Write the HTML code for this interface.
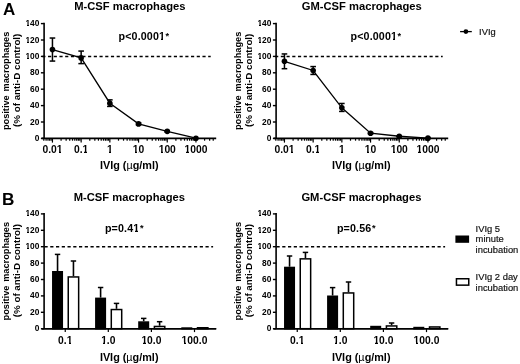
<!DOCTYPE html>
<html><head><meta charset="utf-8"><style>
html,body{margin:0;padding:0;background:#fff;width:520px;height:364px;overflow:hidden}
svg{display:block;will-change:transform}
</style></head><body>
<svg width="520" height="364" viewBox="0 0 520 364">
<rect width="520" height="364" fill="#fff"/>
<text x="3.0" y="14.6" font-size="17" font-weight="bold" font-family="Liberation Sans, sans-serif">A</text>
<text x="2.0" y="205.3" font-size="17.2" font-weight="bold" font-family="Liberation Sans, sans-serif">B</text>
<line x1="44.1" y1="22.80" x2="44.1" y2="138.40" stroke="#000" stroke-width="1.6"/>
<line x1="40.90" y1="138.40" x2="44.10" y2="138.40" stroke="#000" stroke-width="1.4"/>
<text x="39.40" y="140.90" font-size="8.4" font-weight="bold" text-anchor="end" font-family="Liberation Sans, sans-serif">0</text>
<line x1="40.90" y1="122.00" x2="44.10" y2="122.00" stroke="#000" stroke-width="1.4"/>
<text x="39.40" y="124.50" font-size="8.4" font-weight="bold" text-anchor="end" font-family="Liberation Sans, sans-serif">20</text>
<line x1="40.90" y1="105.60" x2="44.10" y2="105.60" stroke="#000" stroke-width="1.4"/>
<text x="39.40" y="108.10" font-size="8.4" font-weight="bold" text-anchor="end" font-family="Liberation Sans, sans-serif">40</text>
<line x1="40.90" y1="89.20" x2="44.10" y2="89.20" stroke="#000" stroke-width="1.4"/>
<text x="39.40" y="91.70" font-size="8.4" font-weight="bold" text-anchor="end" font-family="Liberation Sans, sans-serif">60</text>
<line x1="40.90" y1="72.80" x2="44.10" y2="72.80" stroke="#000" stroke-width="1.4"/>
<text x="39.40" y="75.30" font-size="8.4" font-weight="bold" text-anchor="end" font-family="Liberation Sans, sans-serif">80</text>
<line x1="40.90" y1="56.40" x2="44.10" y2="56.40" stroke="#000" stroke-width="1.4"/>
<text x="39.40" y="58.90" font-size="8.4" font-weight="bold" text-anchor="end" font-family="Liberation Sans, sans-serif">100</text>
<line x1="40.90" y1="40.00" x2="44.10" y2="40.00" stroke="#000" stroke-width="1.4"/>
<text x="39.40" y="42.50" font-size="8.4" font-weight="bold" text-anchor="end" font-family="Liberation Sans, sans-serif">120</text>
<line x1="40.90" y1="23.60" x2="44.10" y2="23.60" stroke="#000" stroke-width="1.4"/>
<text x="39.40" y="26.10" font-size="8.4" font-weight="bold" text-anchor="end" font-family="Liberation Sans, sans-serif">140</text>
<text transform="translate(9.20,80.90) rotate(-90)" font-size="9.5" font-weight="bold" text-anchor="middle" font-family="Liberation Sans, sans-serif" textLength="98.4" lengthAdjust="spacingAndGlyphs" word-spacing="1.3">positive macrophages</text>
<text transform="translate(20.30,80.30) rotate(-90)" font-size="9.6" font-weight="bold" text-anchor="middle" font-family="Liberation Sans, sans-serif" textLength="93.2" lengthAdjust="spacingAndGlyphs">(% of anti-D control)</text>
<line x1="41.60" y1="138.40" x2="216.20" y2="138.40" stroke="#000" stroke-width="1.6"/>
<line x1="42.30" y1="56.40" x2="210.70" y2="56.40" stroke="#000" stroke-width="1.5" stroke-dasharray="3.15 2.57"/>
<line x1="43.81" y1="138.40" x2="43.81" y2="140.70" stroke="#000" stroke-width="1.2"/>
<line x1="46.08" y1="138.40" x2="46.08" y2="140.70" stroke="#000" stroke-width="1.2"/>
<line x1="48.00" y1="138.40" x2="48.00" y2="140.70" stroke="#000" stroke-width="1.2"/>
<line x1="49.67" y1="138.40" x2="49.67" y2="140.70" stroke="#000" stroke-width="1.2"/>
<line x1="51.14" y1="138.40" x2="51.14" y2="140.70" stroke="#000" stroke-width="1.2"/>
<line x1="52.45" y1="138.40" x2="52.45" y2="142.60" stroke="#000" stroke-width="1.2"/>
<line x1="61.09" y1="138.40" x2="61.09" y2="140.70" stroke="#000" stroke-width="1.2"/>
<line x1="66.14" y1="138.40" x2="66.14" y2="140.70" stroke="#000" stroke-width="1.2"/>
<line x1="69.73" y1="138.40" x2="69.73" y2="140.70" stroke="#000" stroke-width="1.2"/>
<line x1="72.51" y1="138.40" x2="72.51" y2="140.70" stroke="#000" stroke-width="1.2"/>
<line x1="74.78" y1="138.40" x2="74.78" y2="140.70" stroke="#000" stroke-width="1.2"/>
<line x1="76.70" y1="138.40" x2="76.70" y2="140.70" stroke="#000" stroke-width="1.2"/>
<line x1="78.37" y1="138.40" x2="78.37" y2="140.70" stroke="#000" stroke-width="1.2"/>
<line x1="79.84" y1="138.40" x2="79.84" y2="140.70" stroke="#000" stroke-width="1.2"/>
<line x1="81.15" y1="138.40" x2="81.15" y2="142.60" stroke="#000" stroke-width="1.2"/>
<line x1="89.79" y1="138.40" x2="89.79" y2="140.70" stroke="#000" stroke-width="1.2"/>
<line x1="94.84" y1="138.40" x2="94.84" y2="140.70" stroke="#000" stroke-width="1.2"/>
<line x1="98.43" y1="138.40" x2="98.43" y2="140.70" stroke="#000" stroke-width="1.2"/>
<line x1="101.21" y1="138.40" x2="101.21" y2="140.70" stroke="#000" stroke-width="1.2"/>
<line x1="103.48" y1="138.40" x2="103.48" y2="140.70" stroke="#000" stroke-width="1.2"/>
<line x1="105.40" y1="138.40" x2="105.40" y2="140.70" stroke="#000" stroke-width="1.2"/>
<line x1="107.07" y1="138.40" x2="107.07" y2="140.70" stroke="#000" stroke-width="1.2"/>
<line x1="108.54" y1="138.40" x2="108.54" y2="140.70" stroke="#000" stroke-width="1.2"/>
<line x1="109.85" y1="138.40" x2="109.85" y2="142.60" stroke="#000" stroke-width="1.2"/>
<line x1="118.49" y1="138.40" x2="118.49" y2="140.70" stroke="#000" stroke-width="1.2"/>
<line x1="123.54" y1="138.40" x2="123.54" y2="140.70" stroke="#000" stroke-width="1.2"/>
<line x1="127.13" y1="138.40" x2="127.13" y2="140.70" stroke="#000" stroke-width="1.2"/>
<line x1="129.91" y1="138.40" x2="129.91" y2="140.70" stroke="#000" stroke-width="1.2"/>
<line x1="132.18" y1="138.40" x2="132.18" y2="140.70" stroke="#000" stroke-width="1.2"/>
<line x1="134.10" y1="138.40" x2="134.10" y2="140.70" stroke="#000" stroke-width="1.2"/>
<line x1="135.77" y1="138.40" x2="135.77" y2="140.70" stroke="#000" stroke-width="1.2"/>
<line x1="137.24" y1="138.40" x2="137.24" y2="140.70" stroke="#000" stroke-width="1.2"/>
<line x1="138.55" y1="138.40" x2="138.55" y2="142.60" stroke="#000" stroke-width="1.2"/>
<line x1="147.19" y1="138.40" x2="147.19" y2="140.70" stroke="#000" stroke-width="1.2"/>
<line x1="152.24" y1="138.40" x2="152.24" y2="140.70" stroke="#000" stroke-width="1.2"/>
<line x1="155.83" y1="138.40" x2="155.83" y2="140.70" stroke="#000" stroke-width="1.2"/>
<line x1="158.61" y1="138.40" x2="158.61" y2="140.70" stroke="#000" stroke-width="1.2"/>
<line x1="160.88" y1="138.40" x2="160.88" y2="140.70" stroke="#000" stroke-width="1.2"/>
<line x1="162.80" y1="138.40" x2="162.80" y2="140.70" stroke="#000" stroke-width="1.2"/>
<line x1="164.47" y1="138.40" x2="164.47" y2="140.70" stroke="#000" stroke-width="1.2"/>
<line x1="165.94" y1="138.40" x2="165.94" y2="140.70" stroke="#000" stroke-width="1.2"/>
<line x1="167.25" y1="138.40" x2="167.25" y2="142.60" stroke="#000" stroke-width="1.2"/>
<line x1="175.89" y1="138.40" x2="175.89" y2="140.70" stroke="#000" stroke-width="1.2"/>
<line x1="180.94" y1="138.40" x2="180.94" y2="140.70" stroke="#000" stroke-width="1.2"/>
<line x1="184.53" y1="138.40" x2="184.53" y2="140.70" stroke="#000" stroke-width="1.2"/>
<line x1="187.31" y1="138.40" x2="187.31" y2="140.70" stroke="#000" stroke-width="1.2"/>
<line x1="189.58" y1="138.40" x2="189.58" y2="140.70" stroke="#000" stroke-width="1.2"/>
<line x1="191.50" y1="138.40" x2="191.50" y2="140.70" stroke="#000" stroke-width="1.2"/>
<line x1="193.17" y1="138.40" x2="193.17" y2="140.70" stroke="#000" stroke-width="1.2"/>
<line x1="194.64" y1="138.40" x2="194.64" y2="140.70" stroke="#000" stroke-width="1.2"/>
<line x1="195.95" y1="138.40" x2="195.95" y2="142.60" stroke="#000" stroke-width="1.2"/>
<line x1="204.59" y1="138.40" x2="204.59" y2="140.70" stroke="#000" stroke-width="1.2"/>
<line x1="209.64" y1="138.40" x2="209.64" y2="140.70" stroke="#000" stroke-width="1.2"/>
<line x1="213.23" y1="138.40" x2="213.23" y2="140.70" stroke="#000" stroke-width="1.2"/>
<text x="52.45" y="153.1" font-size="10.3" font-weight="bold" text-anchor="middle" font-family="Liberation Sans, sans-serif">0.01</text>
<text x="81.15" y="153.1" font-size="10.3" font-weight="bold" text-anchor="middle" font-family="Liberation Sans, sans-serif">0.1</text>
<text x="109.85" y="153.1" font-size="10.3" font-weight="bold" text-anchor="middle" font-family="Liberation Sans, sans-serif">1</text>
<text x="138.55" y="153.1" font-size="10.3" font-weight="bold" text-anchor="middle" font-family="Liberation Sans, sans-serif">10</text>
<text x="167.25" y="153.1" font-size="10.3" font-weight="bold" text-anchor="middle" font-family="Liberation Sans, sans-serif">100</text>
<text x="195.95" y="153.1" font-size="10.3" font-weight="bold" text-anchor="middle" font-family="Liberation Sans, sans-serif">1000</text>
<text x="129.30" y="169.1" font-size="10.8" font-weight="bold" text-anchor="middle" font-family="Liberation Sans, sans-serif" textLength="58.6" lengthAdjust="spacingAndGlyphs">IVIg (<tspan font-weight="normal">µ</tspan>g/ml)</text>
<text x="129.80" y="10.1" font-size="11.2" font-weight="bold" text-anchor="middle" font-family="Liberation Sans, sans-serif">M-CSF macrophages</text>
<text x="143.90" y="40.3" font-size="10.7" font-weight="bold" text-anchor="middle" font-family="Liberation Sans, sans-serif" textLength="50.6" lengthAdjust="spacing">p&lt;0.0001<tspan font-size="9.2" dx="0.6" dy="-1.7">*</tspan></text>
<polyline points="52.45,49.51 81.15,57.88 109.85,103.22 138.55,123.89 167.25,131.35 195.95,138.24" fill="none" stroke="#000" stroke-width="1.3"/>
<line x1="52.45" y1="61.07" x2="52.45" y2="38.03" stroke="#000" stroke-width="1.5"/>
<line x1="49.65" y1="61.07" x2="55.25" y2="61.07" stroke="#000" stroke-width="1.5"/>
<line x1="49.65" y1="38.03" x2="55.25" y2="38.03" stroke="#000" stroke-width="1.5"/>
<circle cx="52.45" cy="49.51" r="2.8" fill="#000"/>
<line x1="81.15" y1="63.62" x2="81.15" y2="51.07" stroke="#000" stroke-width="1.5"/>
<line x1="78.35" y1="63.62" x2="83.95" y2="63.62" stroke="#000" stroke-width="1.5"/>
<line x1="78.35" y1="51.07" x2="83.95" y2="51.07" stroke="#000" stroke-width="1.5"/>
<circle cx="81.15" cy="57.88" r="2.8" fill="#000"/>
<line x1="109.85" y1="106.42" x2="109.85" y2="99.86" stroke="#000" stroke-width="1.5"/>
<line x1="107.05" y1="106.42" x2="112.65" y2="106.42" stroke="#000" stroke-width="1.5"/>
<line x1="107.05" y1="99.86" x2="112.65" y2="99.86" stroke="#000" stroke-width="1.5"/>
<circle cx="109.85" cy="103.22" r="2.8" fill="#000"/>
<line x1="138.55" y1="124.79" x2="138.55" y2="122.98" stroke="#000" stroke-width="1.5"/>
<line x1="135.75" y1="124.79" x2="141.35" y2="124.79" stroke="#000" stroke-width="1.5"/>
<line x1="135.75" y1="122.98" x2="141.35" y2="122.98" stroke="#000" stroke-width="1.5"/>
<circle cx="138.55" cy="123.89" r="2.8" fill="#000"/>
<line x1="167.25" y1="132.00" x2="167.25" y2="130.69" stroke="#000" stroke-width="1.5"/>
<line x1="164.45" y1="132.00" x2="170.05" y2="132.00" stroke="#000" stroke-width="1.5"/>
<line x1="164.45" y1="130.69" x2="170.05" y2="130.69" stroke="#000" stroke-width="1.5"/>
<circle cx="167.25" cy="131.35" r="2.8" fill="#000"/>
<circle cx="195.95" cy="138.24" r="2.8" fill="#000"/>
<line x1="276.1" y1="22.80" x2="276.1" y2="138.40" stroke="#000" stroke-width="1.6"/>
<line x1="272.90" y1="138.40" x2="276.10" y2="138.40" stroke="#000" stroke-width="1.4"/>
<text x="271.40" y="140.90" font-size="8.4" font-weight="bold" text-anchor="end" font-family="Liberation Sans, sans-serif">0</text>
<line x1="272.90" y1="122.00" x2="276.10" y2="122.00" stroke="#000" stroke-width="1.4"/>
<text x="271.40" y="124.50" font-size="8.4" font-weight="bold" text-anchor="end" font-family="Liberation Sans, sans-serif">20</text>
<line x1="272.90" y1="105.60" x2="276.10" y2="105.60" stroke="#000" stroke-width="1.4"/>
<text x="271.40" y="108.10" font-size="8.4" font-weight="bold" text-anchor="end" font-family="Liberation Sans, sans-serif">40</text>
<line x1="272.90" y1="89.20" x2="276.10" y2="89.20" stroke="#000" stroke-width="1.4"/>
<text x="271.40" y="91.70" font-size="8.4" font-weight="bold" text-anchor="end" font-family="Liberation Sans, sans-serif">60</text>
<line x1="272.90" y1="72.80" x2="276.10" y2="72.80" stroke="#000" stroke-width="1.4"/>
<text x="271.40" y="75.30" font-size="8.4" font-weight="bold" text-anchor="end" font-family="Liberation Sans, sans-serif">80</text>
<line x1="272.90" y1="56.40" x2="276.10" y2="56.40" stroke="#000" stroke-width="1.4"/>
<text x="271.40" y="58.90" font-size="8.4" font-weight="bold" text-anchor="end" font-family="Liberation Sans, sans-serif">100</text>
<line x1="272.90" y1="40.00" x2="276.10" y2="40.00" stroke="#000" stroke-width="1.4"/>
<text x="271.40" y="42.50" font-size="8.4" font-weight="bold" text-anchor="end" font-family="Liberation Sans, sans-serif">120</text>
<line x1="272.90" y1="23.60" x2="276.10" y2="23.60" stroke="#000" stroke-width="1.4"/>
<text x="271.40" y="26.10" font-size="8.4" font-weight="bold" text-anchor="end" font-family="Liberation Sans, sans-serif">140</text>
<text transform="translate(241.20,80.90) rotate(-90)" font-size="9.5" font-weight="bold" text-anchor="middle" font-family="Liberation Sans, sans-serif" textLength="98.4" lengthAdjust="spacingAndGlyphs" word-spacing="1.3">positive macrophages</text>
<text transform="translate(252.30,80.30) rotate(-90)" font-size="9.6" font-weight="bold" text-anchor="middle" font-family="Liberation Sans, sans-serif" textLength="93.2" lengthAdjust="spacingAndGlyphs">(% of anti-D control)</text>
<line x1="273.60" y1="138.40" x2="448.20" y2="138.40" stroke="#000" stroke-width="1.6"/>
<line x1="275.10" y1="56.40" x2="442.70" y2="56.40" stroke="#000" stroke-width="1.5" stroke-dasharray="3.15 2.57"/>
<line x1="275.81" y1="138.40" x2="275.81" y2="140.70" stroke="#000" stroke-width="1.2"/>
<line x1="278.08" y1="138.40" x2="278.08" y2="140.70" stroke="#000" stroke-width="1.2"/>
<line x1="280.00" y1="138.40" x2="280.00" y2="140.70" stroke="#000" stroke-width="1.2"/>
<line x1="281.67" y1="138.40" x2="281.67" y2="140.70" stroke="#000" stroke-width="1.2"/>
<line x1="283.14" y1="138.40" x2="283.14" y2="140.70" stroke="#000" stroke-width="1.2"/>
<line x1="284.45" y1="138.40" x2="284.45" y2="142.60" stroke="#000" stroke-width="1.2"/>
<line x1="293.09" y1="138.40" x2="293.09" y2="140.70" stroke="#000" stroke-width="1.2"/>
<line x1="298.14" y1="138.40" x2="298.14" y2="140.70" stroke="#000" stroke-width="1.2"/>
<line x1="301.73" y1="138.40" x2="301.73" y2="140.70" stroke="#000" stroke-width="1.2"/>
<line x1="304.51" y1="138.40" x2="304.51" y2="140.70" stroke="#000" stroke-width="1.2"/>
<line x1="306.78" y1="138.40" x2="306.78" y2="140.70" stroke="#000" stroke-width="1.2"/>
<line x1="308.70" y1="138.40" x2="308.70" y2="140.70" stroke="#000" stroke-width="1.2"/>
<line x1="310.37" y1="138.40" x2="310.37" y2="140.70" stroke="#000" stroke-width="1.2"/>
<line x1="311.84" y1="138.40" x2="311.84" y2="140.70" stroke="#000" stroke-width="1.2"/>
<line x1="313.15" y1="138.40" x2="313.15" y2="142.60" stroke="#000" stroke-width="1.2"/>
<line x1="321.79" y1="138.40" x2="321.79" y2="140.70" stroke="#000" stroke-width="1.2"/>
<line x1="326.84" y1="138.40" x2="326.84" y2="140.70" stroke="#000" stroke-width="1.2"/>
<line x1="330.43" y1="138.40" x2="330.43" y2="140.70" stroke="#000" stroke-width="1.2"/>
<line x1="333.21" y1="138.40" x2="333.21" y2="140.70" stroke="#000" stroke-width="1.2"/>
<line x1="335.48" y1="138.40" x2="335.48" y2="140.70" stroke="#000" stroke-width="1.2"/>
<line x1="337.40" y1="138.40" x2="337.40" y2="140.70" stroke="#000" stroke-width="1.2"/>
<line x1="339.07" y1="138.40" x2="339.07" y2="140.70" stroke="#000" stroke-width="1.2"/>
<line x1="340.54" y1="138.40" x2="340.54" y2="140.70" stroke="#000" stroke-width="1.2"/>
<line x1="341.85" y1="138.40" x2="341.85" y2="142.60" stroke="#000" stroke-width="1.2"/>
<line x1="350.49" y1="138.40" x2="350.49" y2="140.70" stroke="#000" stroke-width="1.2"/>
<line x1="355.54" y1="138.40" x2="355.54" y2="140.70" stroke="#000" stroke-width="1.2"/>
<line x1="359.13" y1="138.40" x2="359.13" y2="140.70" stroke="#000" stroke-width="1.2"/>
<line x1="361.91" y1="138.40" x2="361.91" y2="140.70" stroke="#000" stroke-width="1.2"/>
<line x1="364.18" y1="138.40" x2="364.18" y2="140.70" stroke="#000" stroke-width="1.2"/>
<line x1="366.10" y1="138.40" x2="366.10" y2="140.70" stroke="#000" stroke-width="1.2"/>
<line x1="367.77" y1="138.40" x2="367.77" y2="140.70" stroke="#000" stroke-width="1.2"/>
<line x1="369.24" y1="138.40" x2="369.24" y2="140.70" stroke="#000" stroke-width="1.2"/>
<line x1="370.55" y1="138.40" x2="370.55" y2="142.60" stroke="#000" stroke-width="1.2"/>
<line x1="379.19" y1="138.40" x2="379.19" y2="140.70" stroke="#000" stroke-width="1.2"/>
<line x1="384.24" y1="138.40" x2="384.24" y2="140.70" stroke="#000" stroke-width="1.2"/>
<line x1="387.83" y1="138.40" x2="387.83" y2="140.70" stroke="#000" stroke-width="1.2"/>
<line x1="390.61" y1="138.40" x2="390.61" y2="140.70" stroke="#000" stroke-width="1.2"/>
<line x1="392.88" y1="138.40" x2="392.88" y2="140.70" stroke="#000" stroke-width="1.2"/>
<line x1="394.80" y1="138.40" x2="394.80" y2="140.70" stroke="#000" stroke-width="1.2"/>
<line x1="396.47" y1="138.40" x2="396.47" y2="140.70" stroke="#000" stroke-width="1.2"/>
<line x1="397.94" y1="138.40" x2="397.94" y2="140.70" stroke="#000" stroke-width="1.2"/>
<line x1="399.25" y1="138.40" x2="399.25" y2="142.60" stroke="#000" stroke-width="1.2"/>
<line x1="407.89" y1="138.40" x2="407.89" y2="140.70" stroke="#000" stroke-width="1.2"/>
<line x1="412.94" y1="138.40" x2="412.94" y2="140.70" stroke="#000" stroke-width="1.2"/>
<line x1="416.53" y1="138.40" x2="416.53" y2="140.70" stroke="#000" stroke-width="1.2"/>
<line x1="419.31" y1="138.40" x2="419.31" y2="140.70" stroke="#000" stroke-width="1.2"/>
<line x1="421.58" y1="138.40" x2="421.58" y2="140.70" stroke="#000" stroke-width="1.2"/>
<line x1="423.50" y1="138.40" x2="423.50" y2="140.70" stroke="#000" stroke-width="1.2"/>
<line x1="425.17" y1="138.40" x2="425.17" y2="140.70" stroke="#000" stroke-width="1.2"/>
<line x1="426.64" y1="138.40" x2="426.64" y2="140.70" stroke="#000" stroke-width="1.2"/>
<line x1="427.95" y1="138.40" x2="427.95" y2="142.60" stroke="#000" stroke-width="1.2"/>
<line x1="436.59" y1="138.40" x2="436.59" y2="140.70" stroke="#000" stroke-width="1.2"/>
<line x1="441.64" y1="138.40" x2="441.64" y2="140.70" stroke="#000" stroke-width="1.2"/>
<line x1="445.23" y1="138.40" x2="445.23" y2="140.70" stroke="#000" stroke-width="1.2"/>
<text x="284.45" y="153.1" font-size="10.3" font-weight="bold" text-anchor="middle" font-family="Liberation Sans, sans-serif">0.01</text>
<text x="313.15" y="153.1" font-size="10.3" font-weight="bold" text-anchor="middle" font-family="Liberation Sans, sans-serif">0.1</text>
<text x="341.85" y="153.1" font-size="10.3" font-weight="bold" text-anchor="middle" font-family="Liberation Sans, sans-serif">1</text>
<text x="370.55" y="153.1" font-size="10.3" font-weight="bold" text-anchor="middle" font-family="Liberation Sans, sans-serif">10</text>
<text x="399.25" y="153.1" font-size="10.3" font-weight="bold" text-anchor="middle" font-family="Liberation Sans, sans-serif">100</text>
<text x="427.95" y="153.1" font-size="10.3" font-weight="bold" text-anchor="middle" font-family="Liberation Sans, sans-serif">1000</text>
<text x="361.30" y="169.1" font-size="10.8" font-weight="bold" text-anchor="middle" font-family="Liberation Sans, sans-serif" textLength="58.6" lengthAdjust="spacingAndGlyphs">IVIg (<tspan font-weight="normal">µ</tspan>g/ml)</text>
<text x="361.80" y="10.1" font-size="11.2" font-weight="bold" text-anchor="middle" font-family="Liberation Sans, sans-serif">GM-CSF macrophages</text>
<text x="375.90" y="40.3" font-size="10.7" font-weight="bold" text-anchor="middle" font-family="Liberation Sans, sans-serif" textLength="50.6" lengthAdjust="spacing">p&lt;0.0001<tspan font-size="9.2" dx="0.6" dy="-1.7">*</tspan></text>
<polyline points="284.45,61.32 313.15,70.50 341.85,107.81 370.55,133.23 399.25,136.27 427.95,138.15" fill="none" stroke="#000" stroke-width="1.3"/>
<line x1="284.45" y1="68.70" x2="284.45" y2="53.94" stroke="#000" stroke-width="1.5"/>
<line x1="281.65" y1="68.70" x2="287.25" y2="68.70" stroke="#000" stroke-width="1.5"/>
<line x1="281.65" y1="53.94" x2="287.25" y2="53.94" stroke="#000" stroke-width="1.5"/>
<circle cx="284.45" cy="61.32" r="2.8" fill="#000"/>
<line x1="313.15" y1="74.44" x2="313.15" y2="66.57" stroke="#000" stroke-width="1.5"/>
<line x1="310.35" y1="74.44" x2="315.95" y2="74.44" stroke="#000" stroke-width="1.5"/>
<line x1="310.35" y1="66.57" x2="315.95" y2="66.57" stroke="#000" stroke-width="1.5"/>
<circle cx="313.15" cy="70.50" r="2.8" fill="#000"/>
<line x1="341.85" y1="111.42" x2="341.85" y2="103.47" stroke="#000" stroke-width="1.5"/>
<line x1="339.05" y1="111.42" x2="344.65" y2="111.42" stroke="#000" stroke-width="1.5"/>
<line x1="339.05" y1="103.47" x2="344.65" y2="103.47" stroke="#000" stroke-width="1.5"/>
<circle cx="341.85" cy="107.81" r="2.8" fill="#000"/>
<line x1="370.55" y1="133.89" x2="370.55" y2="132.58" stroke="#000" stroke-width="1.5"/>
<line x1="367.75" y1="133.89" x2="373.35" y2="133.89" stroke="#000" stroke-width="1.5"/>
<line x1="367.75" y1="132.58" x2="373.35" y2="132.58" stroke="#000" stroke-width="1.5"/>
<circle cx="370.55" cy="133.23" r="2.8" fill="#000"/>
<line x1="399.25" y1="136.76" x2="399.25" y2="135.78" stroke="#000" stroke-width="1.5"/>
<line x1="396.45" y1="136.76" x2="402.05" y2="136.76" stroke="#000" stroke-width="1.5"/>
<line x1="396.45" y1="135.78" x2="402.05" y2="135.78" stroke="#000" stroke-width="1.5"/>
<circle cx="399.25" cy="136.27" r="2.8" fill="#000"/>
<line x1="427.95" y1="138.40" x2="427.95" y2="137.91" stroke="#000" stroke-width="1.5"/>
<line x1="425.15" y1="138.40" x2="430.75" y2="138.40" stroke="#000" stroke-width="1.5"/>
<line x1="425.15" y1="137.91" x2="430.75" y2="137.91" stroke="#000" stroke-width="1.5"/>
<circle cx="427.95" cy="138.15" r="2.8" fill="#000"/>
<line x1="44.1" y1="213.10" x2="44.1" y2="328.70" stroke="#000" stroke-width="1.6"/>
<line x1="40.90" y1="328.70" x2="44.10" y2="328.70" stroke="#000" stroke-width="1.4"/>
<text x="39.40" y="331.20" font-size="8.4" font-weight="bold" text-anchor="end" font-family="Liberation Sans, sans-serif">0</text>
<line x1="40.90" y1="312.30" x2="44.10" y2="312.30" stroke="#000" stroke-width="1.4"/>
<text x="39.40" y="314.80" font-size="8.4" font-weight="bold" text-anchor="end" font-family="Liberation Sans, sans-serif">20</text>
<line x1="40.90" y1="295.90" x2="44.10" y2="295.90" stroke="#000" stroke-width="1.4"/>
<text x="39.40" y="298.40" font-size="8.4" font-weight="bold" text-anchor="end" font-family="Liberation Sans, sans-serif">40</text>
<line x1="40.90" y1="279.50" x2="44.10" y2="279.50" stroke="#000" stroke-width="1.4"/>
<text x="39.40" y="282.00" font-size="8.4" font-weight="bold" text-anchor="end" font-family="Liberation Sans, sans-serif">60</text>
<line x1="40.90" y1="263.10" x2="44.10" y2="263.10" stroke="#000" stroke-width="1.4"/>
<text x="39.40" y="265.60" font-size="8.4" font-weight="bold" text-anchor="end" font-family="Liberation Sans, sans-serif">80</text>
<line x1="40.90" y1="246.70" x2="44.10" y2="246.70" stroke="#000" stroke-width="1.4"/>
<text x="39.40" y="249.20" font-size="8.4" font-weight="bold" text-anchor="end" font-family="Liberation Sans, sans-serif">100</text>
<line x1="40.90" y1="230.30" x2="44.10" y2="230.30" stroke="#000" stroke-width="1.4"/>
<text x="39.40" y="232.80" font-size="8.4" font-weight="bold" text-anchor="end" font-family="Liberation Sans, sans-serif">120</text>
<line x1="40.90" y1="213.90" x2="44.10" y2="213.90" stroke="#000" stroke-width="1.4"/>
<text x="39.40" y="216.40" font-size="8.4" font-weight="bold" text-anchor="end" font-family="Liberation Sans, sans-serif">140</text>
<text transform="translate(9.20,271.20) rotate(-90)" font-size="9.5" font-weight="bold" text-anchor="middle" font-family="Liberation Sans, sans-serif" textLength="98.4" lengthAdjust="spacingAndGlyphs" word-spacing="1.3">positive macrophages</text>
<text transform="translate(20.30,270.60) rotate(-90)" font-size="9.6" font-weight="bold" text-anchor="middle" font-family="Liberation Sans, sans-serif" textLength="93.2" lengthAdjust="spacingAndGlyphs">(% of anti-D control)</text>
<line x1="41.60" y1="328.70" x2="216.20" y2="328.70" stroke="#000" stroke-width="1.6"/>
<line x1="44.50" y1="246.70" x2="213.10" y2="246.70" stroke="#000" stroke-width="1.5" stroke-dasharray="3.2 2.55"/>
<line x1="65.25" y1="328.70" x2="65.25" y2="332.10" stroke="#000" stroke-width="1.2"/>
<text x="65.25" y="343.9" font-size="10.3" font-weight="bold" text-anchor="middle" font-family="Liberation Sans, sans-serif">0.1</text>
<line x1="108.30" y1="328.70" x2="108.30" y2="332.10" stroke="#000" stroke-width="1.2"/>
<text x="108.30" y="343.9" font-size="10.3" font-weight="bold" text-anchor="middle" font-family="Liberation Sans, sans-serif">1.0</text>
<line x1="151.40" y1="328.70" x2="151.40" y2="332.10" stroke="#000" stroke-width="1.2"/>
<text x="151.40" y="343.9" font-size="10.3" font-weight="bold" text-anchor="middle" font-family="Liberation Sans, sans-serif">10.0</text>
<line x1="194.50" y1="328.70" x2="194.50" y2="332.10" stroke="#000" stroke-width="1.2"/>
<text x="194.50" y="343.9" font-size="10.3" font-weight="bold" text-anchor="middle" font-family="Liberation Sans, sans-serif">100.0</text>
<text x="129.20" y="360.6" font-size="10.8" font-weight="bold" text-anchor="middle" font-family="Liberation Sans, sans-serif" textLength="58.6" lengthAdjust="spacingAndGlyphs">IVIg (<tspan font-weight="normal">µ</tspan>g/ml)</text>
<text x="129.40" y="200.9" font-size="11.2" font-weight="bold" text-anchor="middle" font-family="Liberation Sans, sans-serif">M-CSF macrophages</text>
<text x="124.20" y="232.45" font-size="10.7" font-weight="bold" text-anchor="middle" font-family="Liberation Sans, sans-serif" textLength="38.6" lengthAdjust="spacing">p=0.41<tspan font-size="9.2" dx="0.6" dy="-1.7">*</tspan></text>
<line x1="57.55" y1="254.40" x2="57.55" y2="271.00" stroke="#000" stroke-width="1.6"/>
<line x1="54.85" y1="254.40" x2="60.25" y2="254.40" stroke="#000" stroke-width="1.5"/>
<rect x="52.80" y="271.75" width="9.50" height="56.95" fill="#000" stroke="#000" stroke-width="1.5"/>
<line x1="73.45" y1="261.00" x2="73.45" y2="276.20" stroke="#000" stroke-width="1.6"/>
<line x1="70.75" y1="261.00" x2="76.15" y2="261.00" stroke="#000" stroke-width="1.5"/>
<rect x="68.25" y="276.95" width="10.40" height="51.75" fill="#fff" stroke="#000" stroke-width="1.5"/>
<line x1="100.60" y1="287.50" x2="100.60" y2="297.60" stroke="#000" stroke-width="1.6"/>
<line x1="97.90" y1="287.50" x2="103.30" y2="287.50" stroke="#000" stroke-width="1.5"/>
<rect x="95.85" y="298.35" width="9.50" height="30.35" fill="#000" stroke="#000" stroke-width="1.5"/>
<line x1="116.50" y1="303.40" x2="116.50" y2="308.80" stroke="#000" stroke-width="1.6"/>
<line x1="113.80" y1="303.40" x2="119.20" y2="303.40" stroke="#000" stroke-width="1.5"/>
<rect x="111.30" y="309.55" width="10.40" height="19.15" fill="#fff" stroke="#000" stroke-width="1.5"/>
<line x1="143.70" y1="318.40" x2="143.70" y2="321.30" stroke="#000" stroke-width="1.6"/>
<line x1="141.00" y1="318.40" x2="146.40" y2="318.40" stroke="#000" stroke-width="1.5"/>
<rect x="138.95" y="322.05" width="9.50" height="6.65" fill="#000" stroke="#000" stroke-width="1.5"/>
<line x1="159.60" y1="321.70" x2="159.60" y2="325.70" stroke="#000" stroke-width="1.6"/>
<line x1="156.90" y1="321.70" x2="162.30" y2="321.70" stroke="#000" stroke-width="1.5"/>
<rect x="154.40" y="326.45" width="10.40" height="2.25" fill="#fff" stroke="#000" stroke-width="1.5"/>
<rect x="182.05" y="328.05" width="9.50" height="0.65" fill="#000" stroke="#000" stroke-width="1.5"/>
<rect x="197.50" y="327.75" width="10.40" height="0.95" fill="#fff" stroke="#000" stroke-width="1.5"/>
<line x1="41.60" y1="328.70" x2="216.20" y2="328.70" stroke="#000" stroke-width="1.6"/>
<line x1="276.1" y1="213.10" x2="276.1" y2="328.70" stroke="#000" stroke-width="1.6"/>
<line x1="272.90" y1="328.70" x2="276.10" y2="328.70" stroke="#000" stroke-width="1.4"/>
<text x="271.40" y="331.20" font-size="8.4" font-weight="bold" text-anchor="end" font-family="Liberation Sans, sans-serif">0</text>
<line x1="272.90" y1="312.30" x2="276.10" y2="312.30" stroke="#000" stroke-width="1.4"/>
<text x="271.40" y="314.80" font-size="8.4" font-weight="bold" text-anchor="end" font-family="Liberation Sans, sans-serif">20</text>
<line x1="272.90" y1="295.90" x2="276.10" y2="295.90" stroke="#000" stroke-width="1.4"/>
<text x="271.40" y="298.40" font-size="8.4" font-weight="bold" text-anchor="end" font-family="Liberation Sans, sans-serif">40</text>
<line x1="272.90" y1="279.50" x2="276.10" y2="279.50" stroke="#000" stroke-width="1.4"/>
<text x="271.40" y="282.00" font-size="8.4" font-weight="bold" text-anchor="end" font-family="Liberation Sans, sans-serif">60</text>
<line x1="272.90" y1="263.10" x2="276.10" y2="263.10" stroke="#000" stroke-width="1.4"/>
<text x="271.40" y="265.60" font-size="8.4" font-weight="bold" text-anchor="end" font-family="Liberation Sans, sans-serif">80</text>
<line x1="272.90" y1="246.70" x2="276.10" y2="246.70" stroke="#000" stroke-width="1.4"/>
<text x="271.40" y="249.20" font-size="8.4" font-weight="bold" text-anchor="end" font-family="Liberation Sans, sans-serif">100</text>
<line x1="272.90" y1="230.30" x2="276.10" y2="230.30" stroke="#000" stroke-width="1.4"/>
<text x="271.40" y="232.80" font-size="8.4" font-weight="bold" text-anchor="end" font-family="Liberation Sans, sans-serif">120</text>
<line x1="272.90" y1="213.90" x2="276.10" y2="213.90" stroke="#000" stroke-width="1.4"/>
<text x="271.40" y="216.40" font-size="8.4" font-weight="bold" text-anchor="end" font-family="Liberation Sans, sans-serif">140</text>
<text transform="translate(241.20,271.20) rotate(-90)" font-size="9.5" font-weight="bold" text-anchor="middle" font-family="Liberation Sans, sans-serif" textLength="98.4" lengthAdjust="spacingAndGlyphs" word-spacing="1.3">positive macrophages</text>
<text transform="translate(252.30,270.60) rotate(-90)" font-size="9.6" font-weight="bold" text-anchor="middle" font-family="Liberation Sans, sans-serif" textLength="93.2" lengthAdjust="spacingAndGlyphs">(% of anti-D control)</text>
<line x1="273.60" y1="328.70" x2="448.20" y2="328.70" stroke="#000" stroke-width="1.6"/>
<line x1="276.50" y1="246.70" x2="445.10" y2="246.70" stroke="#000" stroke-width="1.5" stroke-dasharray="3.2 2.55"/>
<line x1="297.25" y1="328.70" x2="297.25" y2="332.10" stroke="#000" stroke-width="1.2"/>
<text x="297.25" y="343.9" font-size="10.3" font-weight="bold" text-anchor="middle" font-family="Liberation Sans, sans-serif">0.1</text>
<line x1="340.30" y1="328.70" x2="340.30" y2="332.10" stroke="#000" stroke-width="1.2"/>
<text x="340.30" y="343.9" font-size="10.3" font-weight="bold" text-anchor="middle" font-family="Liberation Sans, sans-serif">1.0</text>
<line x1="383.40" y1="328.70" x2="383.40" y2="332.10" stroke="#000" stroke-width="1.2"/>
<text x="383.40" y="343.9" font-size="10.3" font-weight="bold" text-anchor="middle" font-family="Liberation Sans, sans-serif">10.0</text>
<line x1="426.50" y1="328.70" x2="426.50" y2="332.10" stroke="#000" stroke-width="1.2"/>
<text x="426.50" y="343.9" font-size="10.3" font-weight="bold" text-anchor="middle" font-family="Liberation Sans, sans-serif">100.0</text>
<text x="361.20" y="360.6" font-size="10.8" font-weight="bold" text-anchor="middle" font-family="Liberation Sans, sans-serif" textLength="58.6" lengthAdjust="spacingAndGlyphs">IVIg (<tspan font-weight="normal">µ</tspan>g/ml)</text>
<text x="361.40" y="200.9" font-size="11.2" font-weight="bold" text-anchor="middle" font-family="Liberation Sans, sans-serif">GM-CSF macrophages</text>
<text x="356.20" y="232.45" font-size="10.7" font-weight="bold" text-anchor="middle" font-family="Liberation Sans, sans-serif" textLength="38.6" lengthAdjust="spacing">p=0.56<tspan font-size="9.2" dx="0.6" dy="-1.7">*</tspan></text>
<line x1="289.55" y1="256.00" x2="289.55" y2="266.70" stroke="#000" stroke-width="1.6"/>
<line x1="286.85" y1="256.00" x2="292.25" y2="256.00" stroke="#000" stroke-width="1.5"/>
<rect x="284.80" y="267.45" width="9.50" height="61.25" fill="#000" stroke="#000" stroke-width="1.5"/>
<line x1="305.45" y1="252.40" x2="305.45" y2="258.10" stroke="#000" stroke-width="1.6"/>
<line x1="302.75" y1="252.40" x2="308.15" y2="252.40" stroke="#000" stroke-width="1.5"/>
<rect x="300.25" y="258.85" width="10.40" height="69.85" fill="#fff" stroke="#000" stroke-width="1.5"/>
<line x1="332.60" y1="287.60" x2="332.60" y2="295.50" stroke="#000" stroke-width="1.6"/>
<line x1="329.90" y1="287.60" x2="335.30" y2="287.60" stroke="#000" stroke-width="1.5"/>
<rect x="327.85" y="296.25" width="9.50" height="32.45" fill="#000" stroke="#000" stroke-width="1.5"/>
<line x1="348.50" y1="282.00" x2="348.50" y2="292.20" stroke="#000" stroke-width="1.6"/>
<line x1="345.80" y1="282.00" x2="351.20" y2="282.00" stroke="#000" stroke-width="1.5"/>
<rect x="343.30" y="292.95" width="10.40" height="35.75" fill="#fff" stroke="#000" stroke-width="1.5"/>
<rect x="370.95" y="326.55" width="9.50" height="2.15" fill="#000" stroke="#000" stroke-width="1.5"/>
<line x1="391.60" y1="323.00" x2="391.60" y2="325.20" stroke="#000" stroke-width="1.6"/>
<line x1="388.90" y1="323.00" x2="394.30" y2="323.00" stroke="#000" stroke-width="1.5"/>
<rect x="386.40" y="325.95" width="10.40" height="2.75" fill="#fff" stroke="#000" stroke-width="1.5"/>
<rect x="414.05" y="327.55" width="9.50" height="1.15" fill="#000" stroke="#000" stroke-width="1.5"/>
<rect x="429.50" y="326.95" width="10.40" height="1.75" fill="#fff" stroke="#000" stroke-width="1.5"/>
<line x1="273.60" y1="328.70" x2="448.20" y2="328.70" stroke="#000" stroke-width="1.6"/>
<line x1="460.1" y1="31.6" x2="471.8" y2="31.6" stroke="#000" stroke-width="1.3"/>
<circle cx="465.9" cy="31.6" r="2.4" fill="#000"/>
<text x="479.1" y="34.6" font-size="9.3" fill="#111" stroke="#111" stroke-width="0.18" font-family="Liberation Sans, sans-serif">IVIg</text>
<rect x="455.4" y="235.5" width="13.7" height="7.3" fill="#000"/>
<rect x="456.45" y="278.75" width="12.3" height="6.4" fill="#fff" stroke="#000" stroke-width="1.5"/>
<text x="475.6" y="231.50" font-size="9.4" fill="#111" stroke="#111" stroke-width="0.18" font-family="Liberation Sans, sans-serif">IVIg 5</text>
<text x="475.6" y="242.10" font-size="9.4" fill="#111" stroke="#111" stroke-width="0.18" font-family="Liberation Sans, sans-serif">minute</text>
<text x="475.6" y="252.80" font-size="9.4" fill="#111" stroke="#111" stroke-width="0.18" font-family="Liberation Sans, sans-serif">incubation</text>
<text x="475.6" y="280.00" font-size="9.4" fill="#111" stroke="#111" stroke-width="0.18" font-family="Liberation Sans, sans-serif">IVIg 2 day</text>
<text x="475.6" y="290.80" font-size="9.4" fill="#111" stroke="#111" stroke-width="0.18" font-family="Liberation Sans, sans-serif">incubation</text>
<rect x="23" y="57" width="4" height="3" fill="#fff"/>
<rect x="29" y="57" width="1" height="3" fill="#fff"/>
<rect x="23" y="41" width="4" height="3" fill="#fff"/>
<rect x="29" y="41" width="1" height="3" fill="#fff"/>
<rect x="23" y="24" width="4" height="3" fill="#fff"/>
<rect x="29" y="24" width="1" height="3" fill="#fff"/>
<rect x="57" y="151" width="2" height="3" fill="#fff"/>
<rect x="61" y="151" width="4" height="3" fill="#fff"/>
<rect x="82" y="151" width="2" height="3" fill="#fff"/>
<rect x="87" y="151" width="4" height="3" fill="#fff"/>
<rect x="105" y="151" width="4" height="3" fill="#fff"/>
<rect x="111" y="151" width="4" height="3" fill="#fff"/>
<rect x="130" y="151" width="5" height="3" fill="#fff"/>
<rect x="137" y="151" width="1" height="3" fill="#fff"/>
<rect x="156" y="151" width="5" height="3" fill="#fff"/>
<rect x="163" y="151" width="1" height="3" fill="#fff"/>
<rect x="182" y="151" width="4" height="3" fill="#fff"/>
<rect x="189" y="151" width="1" height="3" fill="#fff"/>
<rect x="159" y="38" width="2" height="3" fill="#fff"/>
<rect x="163" y="38" width="4" height="3" fill="#fff"/>
<rect x="255" y="57" width="4" height="3" fill="#fff"/>
<rect x="261" y="57" width="1" height="3" fill="#fff"/>
<rect x="255" y="41" width="4" height="3" fill="#fff"/>
<rect x="261" y="41" width="1" height="3" fill="#fff"/>
<rect x="255" y="24" width="4" height="3" fill="#fff"/>
<rect x="261" y="24" width="1" height="3" fill="#fff"/>
<rect x="289" y="151" width="2" height="3" fill="#fff"/>
<rect x="293" y="151" width="4" height="3" fill="#fff"/>
<rect x="314" y="151" width="2" height="3" fill="#fff"/>
<rect x="319" y="151" width="4" height="3" fill="#fff"/>
<rect x="337" y="151" width="4" height="3" fill="#fff"/>
<rect x="343" y="151" width="4" height="3" fill="#fff"/>
<rect x="362" y="151" width="5" height="3" fill="#fff"/>
<rect x="369" y="151" width="1" height="3" fill="#fff"/>
<rect x="388" y="151" width="5" height="3" fill="#fff"/>
<rect x="395" y="151" width="1" height="3" fill="#fff"/>
<rect x="414" y="151" width="4" height="3" fill="#fff"/>
<rect x="421" y="151" width="1" height="3" fill="#fff"/>
<rect x="391" y="38" width="2" height="3" fill="#fff"/>
<rect x="395" y="38" width="4" height="3" fill="#fff"/>
<rect x="23" y="247" width="4" height="3" fill="#fff"/>
<rect x="29" y="247" width="1" height="3" fill="#fff"/>
<rect x="23" y="231" width="4" height="3" fill="#fff"/>
<rect x="29" y="231" width="1" height="3" fill="#fff"/>
<rect x="23" y="214" width="4" height="3" fill="#fff"/>
<rect x="29" y="214" width="1" height="3" fill="#fff"/>
<rect x="67" y="342" width="2" height="3" fill="#fff"/>
<rect x="71" y="342" width="4" height="3" fill="#fff"/>
<rect x="99" y="342" width="4" height="3" fill="#fff"/>
<rect x="105" y="342" width="2" height="3" fill="#fff"/>
<rect x="139" y="342" width="4" height="3" fill="#fff"/>
<rect x="146" y="342" width="1" height="3" fill="#fff"/>
<rect x="179" y="342" width="5" height="3" fill="#fff"/>
<rect x="186" y="342" width="1" height="3" fill="#fff"/>
<rect x="134" y="230" width="1" height="3" fill="#fff"/>
<rect x="138" y="230" width="4" height="3" fill="#fff"/>
<rect x="255" y="247" width="4" height="3" fill="#fff"/>
<rect x="261" y="247" width="1" height="3" fill="#fff"/>
<rect x="255" y="231" width="4" height="3" fill="#fff"/>
<rect x="261" y="231" width="1" height="3" fill="#fff"/>
<rect x="255" y="214" width="4" height="3" fill="#fff"/>
<rect x="261" y="214" width="1" height="3" fill="#fff"/>
<rect x="299" y="342" width="2" height="3" fill="#fff"/>
<rect x="303" y="342" width="4" height="3" fill="#fff"/>
<rect x="331" y="342" width="4" height="3" fill="#fff"/>
<rect x="337" y="342" width="2" height="3" fill="#fff"/>
<rect x="371" y="342" width="4" height="3" fill="#fff"/>
<rect x="378" y="342" width="1" height="3" fill="#fff"/>
<rect x="411" y="342" width="5" height="3" fill="#fff"/>
<rect x="418" y="342" width="1" height="3" fill="#fff"/>
</svg>
</body></html>
